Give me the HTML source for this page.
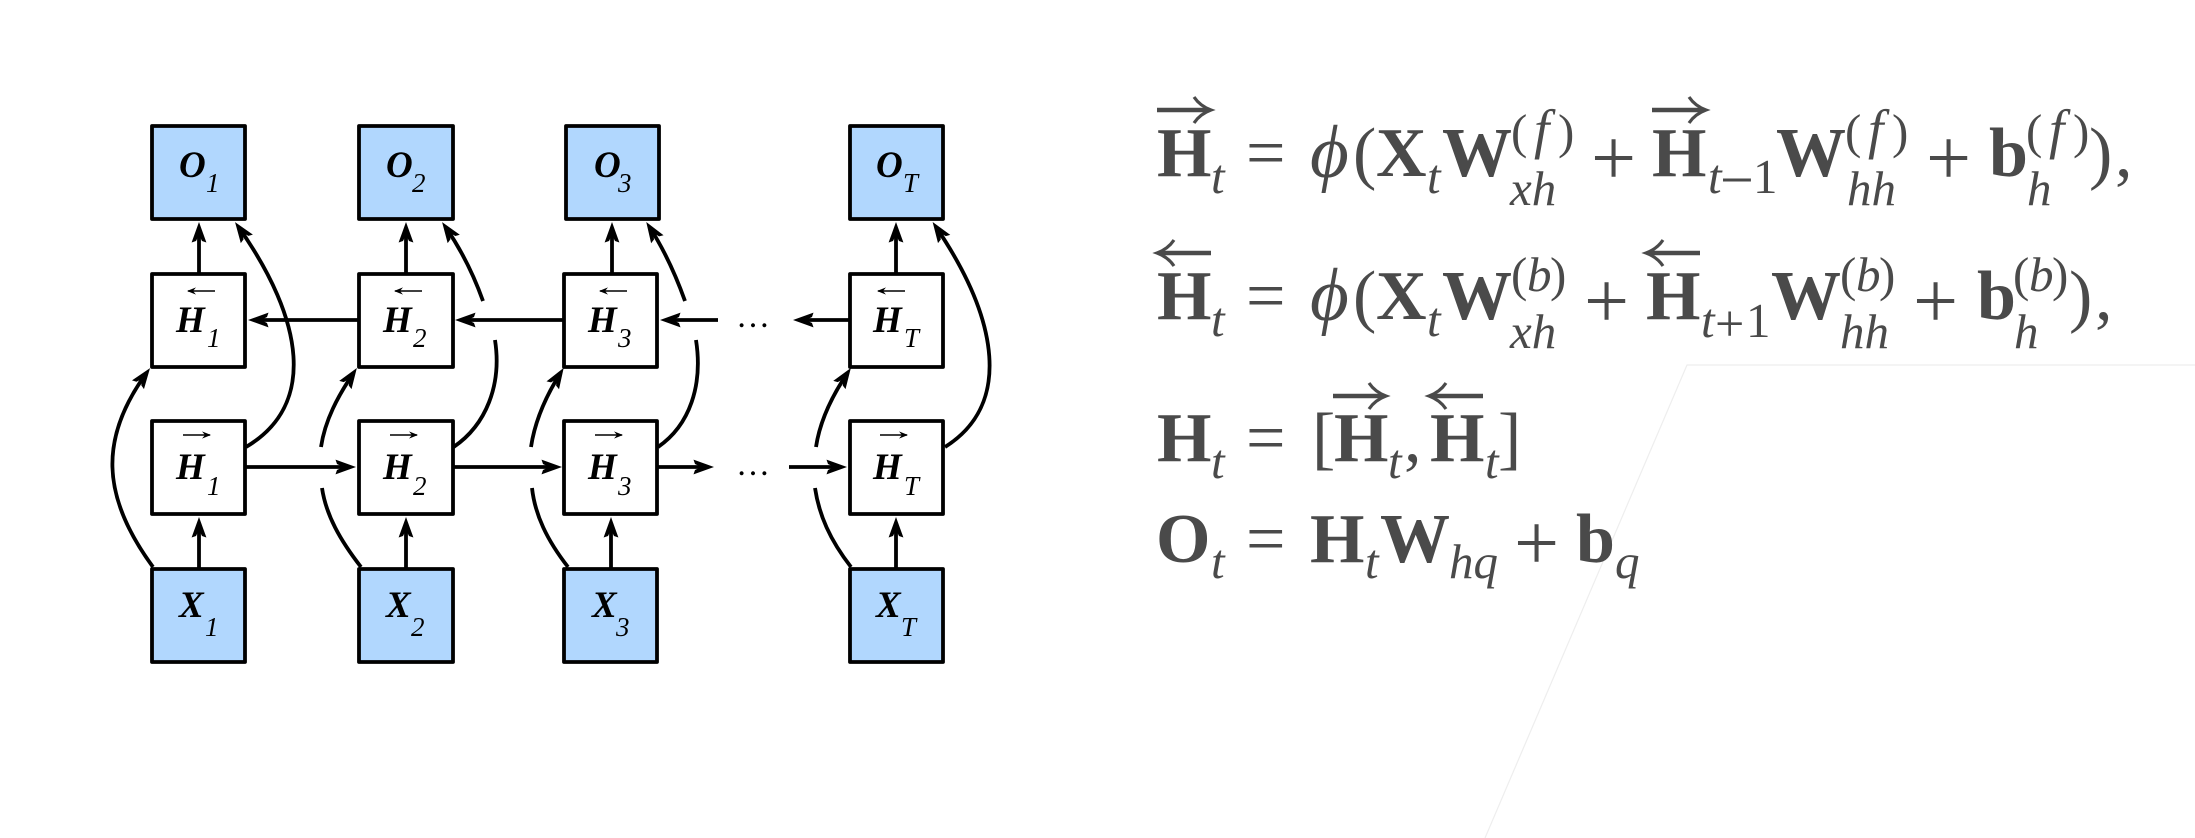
<!DOCTYPE html>
<html><head><meta charset="utf-8"><style>
html,body{margin:0;padding:0;background:#fff}
svg{display:block}
.b{fill:#fff;stroke:#000;stroke-width:3.8;stroke-linejoin:round}
.c{fill:#b1d7fe;stroke:#000;stroke-width:3.8;stroke-linejoin:round}
.l{fill:none;stroke:#000;stroke-width:3.8;stroke-linecap:butt}
.a{marker-end:url(#ah)}
.m{fill:none;stroke:#000;stroke-width:1.6}
.n text{font-family:"Liberation Serif",serif;fill:#000}
.N{font-weight:bold;font-style:italic;font-size:37px}
.s{font-style:italic;font-size:27px}
.e text{font-family:"Liberation Serif",serif;fill:#4a4a4a;font-size:70px}
.e .B{font-weight:bold}
.e .I{font-style:italic;font-size:49px}
.e .F{font-style:italic;font-size:55px}
.e .i{font-style:italic}
.e .R{font-size:49px}
.e .P{font-size:80px}
.q{fill:none;stroke:#4a4a4a;stroke-width:3.2}
.qs{fill:none;stroke:#4a4a4a;stroke-width:4.6}
</style></head><body>
<svg width="2195" height="838" viewBox="0 0 2195 838" xmlns="http://www.w3.org/2000/svg">
<defs>
<marker id="ah" markerUnits="userSpaceOnUse" viewBox="-20 -10 30 20" refX="0" refY="0" markerWidth="30" markerHeight="20" orient="auto" overflow="visible">
<path d="M6 0L-14.500 -7.400L-13 -3L-7 0L-13 3L-14.500 7.400Z" fill="#000"/>
</marker>
<marker id="sr" markerUnits="userSpaceOnUse" viewBox="-10 -6 14 12" refX="0" refY="0" markerWidth="14" markerHeight="12" orient="auto" overflow="visible">
<path d="M1 0L-8 -3.600L-5 0L-8 3.600Z" fill="#000"/>
</marker>
</defs>
<path d="M2195 365H1687L1485 838" fill="none" stroke="#eeeeee" stroke-width="1.2"/>

<g>
<rect class="c" x="152" y="126" width="93" height="93"/><rect class="c" x="359" y="126" width="94" height="93"/><rect class="c" x="566" y="126" width="93" height="93"/><rect class="c" x="850" y="126" width="93" height="93"/>
<rect class="b" x="152" y="274" width="93" height="93"/><rect class="b" x="359" y="274" width="94" height="93"/><rect class="b" x="564" y="274" width="93" height="93"/><rect class="b" x="850" y="274" width="93" height="93"/>
<rect class="b" x="152" y="421" width="93" height="93"/><rect class="b" x="359" y="421" width="94" height="93"/><rect class="b" x="564" y="421" width="93" height="93"/><rect class="b" x="850" y="421" width="93" height="93"/>
<rect class="c" x="152" y="569" width="93" height="93"/><rect class="c" x="359" y="569" width="94" height="93"/><rect class="c" x="564" y="569" width="93" height="93"/><rect class="c" x="850" y="569" width="93" height="93"/>
</g>

<g class="l">
<path class="a" d="M199 274V228"/><path class="a" d="M406 274V228"/><path class="a" d="M612 274V228"/><path class="a" d="M896 274V228"/>
<path class="a" d="M199 569V523"/><path class="a" d="M406 569V523"/><path class="a" d="M611 569V523"/><path class="a" d="M896 569V523"/>
<path class="a" d="M359 320H254"/><path class="a" d="M564 320H461"/><path class="a" d="M718 320H666"/><path class="a" d="M850 320H799"/>
<path class="a" d="M246 467H350"/><path class="a" d="M453 467H556"/><path class="a" d="M658 467H708"/><path class="a" d="M789 467H841"/>
<path class="a" d="M153 567C100 495 100 437 146.500 373"/>
<path d="M361 567C340 540 326 515 322 488"/><path class="a" d="M321 447C325 420 338 396 353.500 373"/>
<path d="M568 567C547 540 535 515 532 488"/><path class="a" d="M531 447C535 420 546 396 560.500 373"/>
<path d="M851 567C830 540 819 515 815 488"/><path class="a" d="M816 447C820 420 832 396 847.500 373"/>
<path class="a" d="M246 447C317 405 304 320 238.500 227"/>
<path d="M453.600 447C486 425 502 385 495 340"/><path class="a" d="M483 301C473 273 460 248 445.500 227"/>
<path d="M658 447C690 425 703 385 696 340"/><path class="a" d="M685 301C675 273 663 248 649.500 227"/>
<path class="a" d="M945 447C1012 405 999 320 936 227"/>
</g>

<g class="m">
<path d="M215 291H188" marker-end="url(#sr)"/><path d="M422 291H395" marker-end="url(#sr)"/><path d="M627 291H600" marker-end="url(#sr)"/><path d="M905 291H878" marker-end="url(#sr)"/>
<path d="M183 435H210" marker-end="url(#sr)"/><path d="M390 435H417" marker-end="url(#sr)"/><path d="M595 435H622" marker-end="url(#sr)"/><path d="M880 435H907" marker-end="url(#sr)"/>
</g>

<g class="n">
<text class="N" x="179" y="177">O</text><text class="s" x="206" y="192">1</text>
<text class="N" x="386" y="177">O</text><text class="s" x="412" y="192">2</text>
<text class="N" x="594" y="177">O</text><text class="s" x="618" y="192">3</text>
<text class="N" x="876" y="177">O</text><text class="s" x="903" y="192">T</text>

<text class="N" x="176" y="332">H</text><text class="s" x="207" y="347">1</text>
<text class="N" x="383" y="332">H</text><text class="s" x="413" y="347">2</text>
<text class="N" x="588" y="332">H</text><text class="s" x="618" y="347">3</text>
<text class="N" x="873" y="332">H</text><text class="s" x="904" y="347">T</text>

<text class="N" x="176" y="479">H</text><text class="s" x="207" y="495">1</text>
<text class="N" x="383" y="479">H</text><text class="s" x="413" y="495">2</text>
<text class="N" x="588" y="479">H</text><text class="s" x="618" y="495">3</text>
<text class="N" x="873" y="479">H</text><text class="s" x="904" y="495">T</text>

<text class="N" x="179" y="617">X</text><text class="s" x="205" y="636">1</text>
<text class="N" x="386" y="617">X</text><text class="s" x="411" y="636">2</text>
<text class="N" x="592" y="617">X</text><text class="s" x="616" y="636">3</text>
<text class="N" x="876" y="617">X</text><text class="s" x="901" y="636">T</text>

<text x="736" y="327" font-size="34">…</text>
<text x="736" y="475" font-size="34">…</text>
</g>

<g class="e">
<!-- line 1 -->
<text class="B" x="1157" y="176">H</text><text class="I" x="1211" y="193">t</text>
<text x="1246" y="176">=</text><text class="i" x="1310" y="177" style="font-size:75px">ϕ</text><text x="1353" y="176">(</text>
<text class="B" x="1376" y="176">X</text><text class="I" x="1427" y="193">t</text>
<text class="B" x="1442" y="176">W</text>
<text class="R" x="1511" y="148">(</text><text class="F" x="1534" y="148">f</text><text class="R" x="1558" y="148">)</text>
<text class="I" x="1510" y="205">xh</text>
<text class="P" x="1591" y="185">+</text>
<text class="B" x="1652" y="176">H</text><text class="I" x="1708" y="193">t</text><text x="1720" y="200" style="font-size:60px">−</text><text class="R" x="1753" y="193">1</text>
<text class="B" x="1776" y="176">W</text>
<text class="R" x="1845" y="148">(</text><text class="F" x="1868" y="148">f</text><text class="R" x="1892" y="148">)</text>
<text class="I" x="1847" y="205">hh</text>
<text class="P" x="1926" y="185">+</text>
<text class="B" x="1989" y="176">b</text>
<text class="R" x="2026" y="148">(</text><text class="F" x="2049" y="148">f</text><text class="R" x="2073" y="148">)</text>
<text class="I" x="2027" y="205">h</text>
<text x="2089" y="176">)</text><text x="2115" y="176">,</text>

<!-- line 2 -->
<text class="B" x="1157" y="319">H</text><text class="I" x="1211" y="336">t</text>
<text x="1246" y="319">=</text><text class="i" x="1310" y="320" style="font-size:75px">ϕ</text><text x="1353" y="319">(</text>
<text class="B" x="1376" y="319">X</text><text class="I" x="1427" y="336">t</text>
<text class="B" x="1442" y="319">W</text>
<text class="R" x="1511" y="291">(</text><text class="I" x="1527" y="291">b</text><text class="R" x="1550" y="291">)</text>
<text class="I" x="1510" y="348">xh</text>
<text class="P" x="1584" y="328">+</text>
<text class="B" x="1646" y="319">H</text><text class="I" x="1701" y="337">t</text><text x="1715" y="341" style="font-size:52px">+</text><text class="R" x="1746" y="337">1</text>
<text class="B" x="1771" y="319">W</text>
<text class="R" x="1840" y="291">(</text><text class="I" x="1856" y="291">b</text><text class="R" x="1879" y="291">)</text>
<text class="I" x="1840" y="348">hh</text>
<text class="P" x="1913" y="328">+</text>
<text class="B" x="1977" y="319">b</text>
<text class="R" x="2013" y="291">(</text><text class="I" x="2029" y="291">b</text><text class="R" x="2052" y="291">)</text>
<text class="I" x="2014" y="348">h</text>
<text x="2069" y="319">)</text><text x="2095" y="319">,</text>

<!-- line 3 -->
<text class="B" x="1157" y="461">H</text><text class="I" x="1211" y="478">t</text>
<text x="1246" y="461">=</text><text x="1312" y="461">[</text>
<text class="B" x="1334" y="461">H</text><text class="I" x="1388" y="478">t</text>
<text x="1404" y="461">,</text>
<text class="B" x="1430" y="461">H</text><text class="I" x="1485" y="478">t</text>
<text x="1498" y="461">]</text>

<!-- line 4 -->
<text class="B" x="1156" y="562">O</text><text class="I" x="1211" y="578">t</text>
<text x="1246" y="562">=</text>
<text class="B" x="1310" y="562">H</text><text class="I" x="1365" y="578">t</text>
<text class="B" x="1380" y="562">W</text><text class="I" x="1449" y="578">hq</text>
<text class="P" x="1514" y="570">+</text>
<text class="B" x="1576" y="562">b</text><text class="I" x="1615" y="578">q</text>
</g>

<!-- equation vector arrows -->
<g class="qs">
<path d="M1157 110H1209"/><path d="M1652 110H1704"/><path d="M1159 253H1211"/><path d="M1648 253H1700"/><path d="M1333 396H1384"/><path d="M1431 396H1483"/>
</g>
<g class="q">
<path d="M1194 97Q1200 106 1211 110Q1200 114 1194 123"/>
<path d="M1689 97Q1695 106 1706 110Q1695 114 1689 123"/>
<path d="M1174 240Q1168 249 1157 253Q1168 257 1174 266"/>
<path d="M1663 240Q1657 249 1646 253Q1657 257 1663 266"/>
<path d="M1369 383Q1375 392 1386 396Q1375 400 1369 409"/>
<path d="M1446 383Q1440 392 1429 396Q1440 400 1446 409"/>
</g>
</svg>
</body></html>
